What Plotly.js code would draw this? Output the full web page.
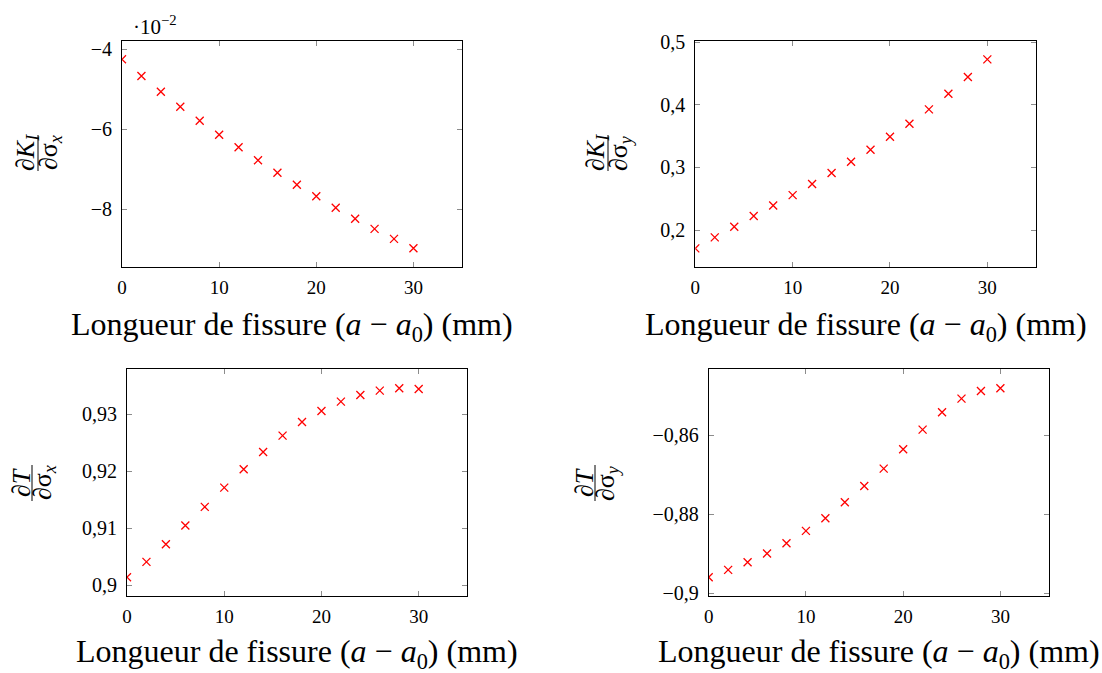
<!DOCTYPE html>
<html><head><meta charset="utf-8">
<script src="https://cdn.plot.ly/plotly-3.0.1.min.js"></script>
<style>html,body{margin:0;padding:0;background:#fff}#chart{width:1102px;height:673px}</style>
</head><body><div id="chart"></div>
<script>
// Crack length (a - a0) in mm
const crackLength = [0, 2, 4, 6, 8, 10, 12, 14, 16, 18, 20, 22, 24, 26, 28, 30];
// dKI/dsigma_x, in units of 1e-2
const dKI_dSx_e2 = [-4.25, -4.667, -5.06, -5.435, -5.785, -6.135, -6.45, -6.775, -7.085, -7.385, -7.675, -7.96, -8.235, -8.49, -8.74, -8.975];
// dKI/dsigma_y
const dKI_dSy = [0.1707, 0.1883, 0.2053, 0.2224, 0.2394, 0.2559, 0.2735, 0.2911, 0.3092, 0.3284, 0.3492, 0.3700, 0.3929, 0.4179, 0.4445, 0.4728];
// dT/dsigma_x
const dT_dSx = [0.90140, 0.90409, 0.90719, 0.91047, 0.91374, 0.91713, 0.92035, 0.92339, 0.92626, 0.92865, 0.93058, 0.93222, 0.93339, 0.93415, 0.93456, 0.93444];
// dT/dsigma_y
const dT_dSy = [-0.89595, -0.89409, -0.89215, -0.88996, -0.88734, -0.88422, -0.88101, -0.87696, -0.87283, -0.86844, -0.86354, -0.85857, -0.85418, -0.85072, -0.84878, -0.84810];

const xTitle = 'Longueur de fissure (<i>a</i> − <i>a</i><sub>0</sub>) (mm)';

const W = 1102, H = 673;
const px = v => v / W;
const py = v => (H - v) / H;

const FONT = '"Liberation Serif", "Times New Roman", serif';
const marker = {symbol: 'x-thin', size: 8, color: '#ff0000', line: {color: '#ff0000', width: 1.3}};

const series = [dKI_dSx_e2, dKI_dSy, dT_dSx, dT_dSy];
const traces = series.map((ys, i) => ({
  type: 'scatter', mode: 'markers', x: crackLength, y: ys,
  xaxis: i === 0 ? 'x' : 'x' + (i + 1), yaxis: i === 0 ? 'y' : 'y' + (i + 1),
  marker: marker, showlegend: false, hoverinfo: 'x+y'
}));

// plot boxes in pixels [left, right, top, bottom]
const boxes = [
  [122, 462, 40.7, 266.7],
  [695.3, 1036, 40.7, 267],
  [127, 467.3, 369.3, 596],
  [708.7, 1049, 369.3, 596]
];
// centre y (px) of each x-axis title
const xTitleY = [326, 326, 653, 653];
const yRanges = [[-9.435, -3.785], [0.141, 0.5026], [0.8981, 0.9379], [-0.9007, -0.8433]];
const yDticks = [2, 0.1, 0.01, 0.02];

const layout = {
  width: W, height: H,
  margin: {l: 0, r: 0, t: 0, b: 0},
  paper_bgcolor: '#fff', plot_bgcolor: '#fff',
  separators: ', ',
  font: {family: FONT, color: '#000', size: 19},
  showlegend: false,
  annotations: [], shapes: []
};

boxes.forEach((b, i) => {
  const xs = i === 0 ? '' : String(i + 1);
  layout['xaxis' + xs] = {
    domain: [px(b[0]), px(b[1])], anchor: 'y' + xs,
    range: [0, 35], dtick: 10, tick0: 0,
    showgrid: false, zeroline: false,
    showline: true, linecolor: '#000', linewidth: 1, mirror: 'allticks',
    ticks: 'inside', ticklen: 5, tickcolor: '#8c8c8c', tickwidth: 1,
    ticklabelstandoff: 3,
    tickfont: {family: FONT, size: 19, color: '#000'}
  };
  layout['yaxis' + xs] = {
    domain: [py(b[3]), py(b[2])], anchor: 'x' + xs,
    range: yRanges[i], dtick: yDticks[i], tick0: 0,
    showgrid: false, zeroline: false,
    showline: true, linecolor: '#000', linewidth: 1, mirror: 'allticks',
    ticks: 'inside', ticklen: 5, tickcolor: '#8c8c8c', tickwidth: 1,
    ticklabelstandoff: 5,
    tickfont: {family: FONT, size: 20, color: '#000'}
  };
  // x-axis title
  layout.annotations.push({
    xref: 'paper', yref: 'paper', x: px((b[0] + b[1]) / 2), y: py(xTitleY[i]),
    text: xTitle, showarrow: false, xanchor: 'center', yanchor: 'middle',
    font: {family: FONT, size: 32, color: '#000'}
  });
});

// y-axis fraction labels: [numerator, denominator, fraction-line x, centre y]
const fracs = [
  ['∂<i>K<sub>I</sub></i>', '∂σ<sub><i>x</i></sub>', 38, 153],
  ['∂<i>K<sub>I</sub></i>', '∂σ<sub><i>y</i></sub>', 608, 153],
  ['∂<i>T</i>', '∂σ<sub><i>x</i></sub>', 32, 483],
  ['∂<i>T</i>', '∂σ<sub><i>y</i></sub>', 595, 483]
];
fracs.forEach(f => {
  layout.annotations.push({
    xref: 'paper', yref: 'paper', x: px(f[2] - 11), y: py(f[3]),
    text: f[0], textangle: -90, showarrow: false,
    xanchor: 'center', yanchor: 'middle',
    font: {family: FONT, size: 26, color: '#000'}
  });
  layout.annotations.push({
    xref: 'paper', yref: 'paper', x: px(f[2] + 12), y: py(f[3]),
    text: f[1], textangle: -90, showarrow: false,
    xanchor: 'center', yanchor: 'middle',
    font: {family: FONT, size: 26, color: '#000'}
  });
  layout.shapes.push({
    type: 'line', xref: 'paper', yref: 'paper',
    x0: px(f[2]), x1: px(f[2]), y0: py(f[3] - 18), y1: py(f[3] + 18),
    line: {color: '#000', width: 1}
  });
});

// scale factor label on first plot
layout.annotations.push({
  xref: 'paper', yref: 'paper', x: px(131), y: py(26),
  text: '·10<sup>−2</sup>', showarrow: false,
  xanchor: 'left', yanchor: 'middle',
  font: {family: FONT, size: 21, color: '#000'}
});

Plotly.newPlot('chart', traces, layout, {staticPlot: true, displayModeBar: false});
</script></body></html>
